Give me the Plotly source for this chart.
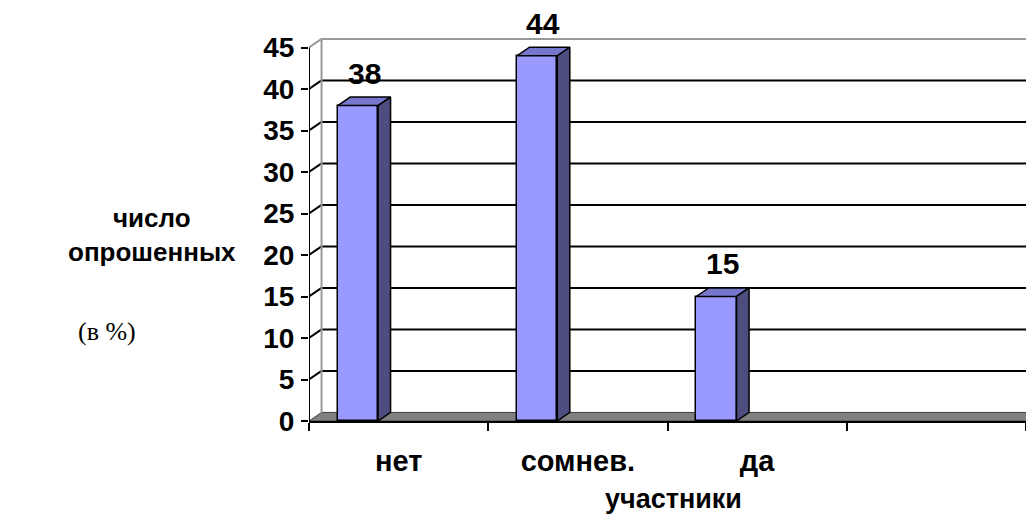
import plotly.graph_objects as go

# data
categories = ['нет', 'сомнев.', 'да']
values = [38, 44, 15]
y_ticks = [0, 5, 10, 15, 20, 25, 30, 35, 40, 45]
n_slots = 4  # excel keeps an empty 4th category

# pseudo-3d settings (data units)
DX = 0.07     # depth offset along x
DY = 1.03     # depth offset along y
BAR_L = 0.16  # front face left edge inside category
BAR_R = 0.385  # front face right edge inside category

FONT = 'Liberation Sans, Arial, sans-serif'
W, H = 1026, 520
PLOT_TOP, PLOT_BOTTOM = 15, 421  # pixels
M_L, M_R, M_T = 309, 0, PLOT_TOP
M_B = H - PLOT_BOTTOM
Y_TOP = (PLOT_BOTTOM - PLOT_TOP) / 8.3


# pixel -> paper coords
def px(x):
    return (x - M_L) / (W - M_L - M_R)


def py(y):
    return (PLOT_BOTTOM - y) / (PLOT_BOTTOM - PLOT_TOP)


fig = go.Figure()

# front faces
fig.add_trace(go.Bar(
    x=[i + (BAR_L + BAR_R) / 2 for i in range(len(values))],
    y=values, width=BAR_R - BAR_L,
    marker=dict(color='#9999FF', line=dict(color='black', width=1.5)),
    hoverinfo='skip', showlegend=False))

# top and side faces
top_x, top_y, side_x, side_y = [], [], [], []
for i, v in enumerate(values):
    x0, x1 = i + BAR_L, i + BAR_R
    top_x += [x0, x1, x1 + DX, x0 + DX, x0, None]
    top_y += [v, v, v + DY, v + DY, v, None]
    side_x += [x1, x1 + DX, x1 + DX, x1, x1, None]
    side_y += [0, DY, v + DY, v, 0, None]
fig.add_trace(go.Scatter(x=top_x, y=top_y, fill='toself', fillcolor='#7676CC',
                         mode='lines', line=dict(color='black', width=1.5),
                         hoverinfo='skip', showlegend=False))
fig.add_trace(go.Scatter(x=side_x, y=side_y, fill='toself', fillcolor='#4D4D80',
                         mode='lines', line=dict(color='black', width=1.5),
                         hoverinfo='skip', showlegend=False))

shapes = []
# floor
shapes.append(dict(type='path', layer='below',
                   path=f'M 0 0 L {n_slots} 0 L {n_slots + DX} {DY} L {DX} {DY} Z',
                   fillcolor='#808080', line=dict(color='#404040', width=1)))
# back wall / side wall gridlines
for t in y_ticks[1:]:
    col = '#999999' if t == y_ticks[-1] else 'black'
    shapes.append(dict(type='line', layer='below', x0=DX, x1=n_slots,
                       y0=t + DY, y1=t + DY, line=dict(color=col, width=2)))
    shapes.append(dict(type='line', layer='below', x0=0, x1=DX,
                       y0=t, y1=t + DY, line=dict(color=col, width=2)))
# back corner edge
shapes.append(dict(type='line', layer='below', x0=DX, x1=DX, y0=DY,
                   y1=y_ticks[-1] + DY, line=dict(color='#999999', width=2)))
# front value axis
shapes.append(dict(type='line', x0=0, x1=0, y0=0, y1=y_ticks[-1],
                   line=dict(color='black', width=2)))

annotations = []
for i, v in enumerate(values):
    annotations.append(dict(x=i + (BAR_L + BAR_R) / 2 + DX / 2, y=v + DY,
                            text=f'<b>{v}</b>', showarrow=False, yshift=24,
                            xanchor='center', yanchor='middle',
                            font=dict(family=FONT, size=30, color='black')))
annotations += [
    dict(xref='paper', yref='paper', x=px(152), y=py(235),
         xanchor='center', yanchor='middle',
         text='<b>число<br>опрошенных</b>', showarrow=False,
         font=dict(family=FONT, size=26, color='black')),
    dict(xref='paper', yref='paper', x=px(107), y=py(331),
         xanchor='center', yanchor='middle',
         text='(в %)', showarrow=False,
         font=dict(family='Liberation Serif, Times New Roman, serif', size=26, color='black')),
    dict(xref='paper', yref='paper', x=px(673), y=py(499),
         xanchor='center', yanchor='middle',
         text='<b>участники</b>', showarrow=False,
         font=dict(family=FONT, size=27, color='black')),
]

fig.update_layout(
    width=W, height=H,
    margin=dict(l=M_L, r=M_R, t=M_T, b=M_B),
    paper_bgcolor='white', plot_bgcolor='white',
    bargap=0, shapes=shapes, annotations=annotations,
    xaxis=dict(range=[0, n_slots], showgrid=False, zeroline=False,
               showline=True, linecolor='black', linewidth=2,
               tickvals=[i + 0.5 for i in range(len(categories))],
               ticktext=categories, ticks='', ticklabelstandoff=13,
               tickfont=dict(family=FONT, size=29, color='black', weight='bold'),
               minor=dict(tickvals=list(range(n_slots + 1)), ticks='outside',
                          ticklen=8, tickwidth=2, tickcolor='black', showgrid=False)),
    yaxis=dict(range=[0, Y_TOP], showgrid=False, zeroline=False, showline=False,
               tickvals=y_ticks, ticks='outside', ticklen=7, tickwidth=2,
               tickcolor='black', ticklabelstandoff=1,
               tickfont=dict(family=FONT, size=28, color='black', weight='bold')),
)

# drop the default page margin so the figure fills the window exactly
fig.write_html('out.html', config={'displayModeBar': False}, post_script=(
    "document.body.style.margin='0';"
    "document.documentElement.style.overflow='hidden';"))
